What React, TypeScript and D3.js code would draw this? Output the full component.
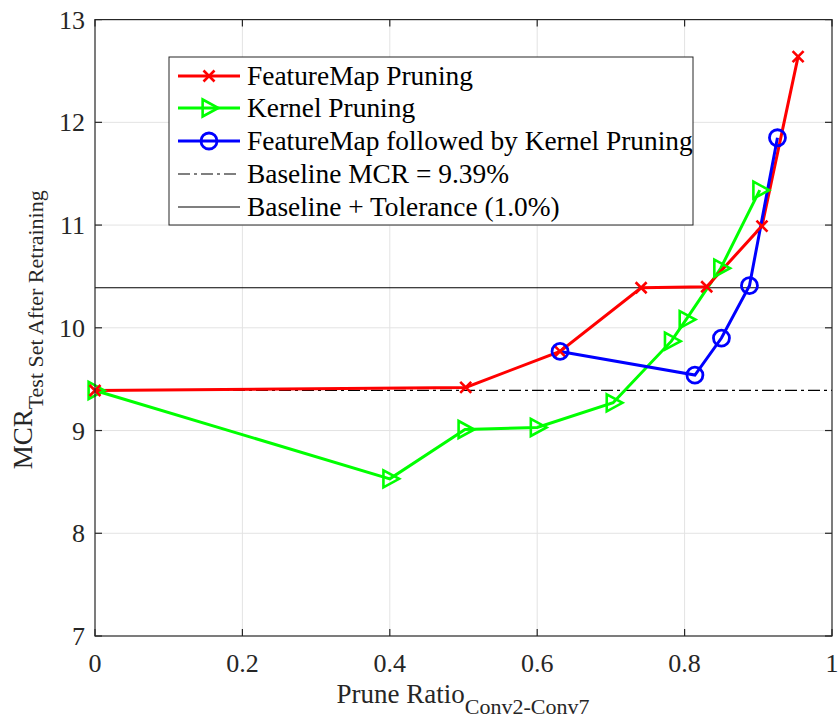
import React from "react";
import * as d3 from "d3";

const fmX = [0, 0.503, 0.631, 0.741, 0.83, 0.905, 0.954];
const fmY = [9.39, 9.42, 9.77, 10.39, 10.4, 10.99, 12.64];
const kX = [0, 0.4, 0.502, 0.6, 0.703, 0.782, 0.802, 0.849, 0.902];
const kY = [9.39, 8.53, 9.01, 9.03, 9.27, 9.87, 10.08, 10.58, 11.34];
const fkX = [0.631, 0.814, 0.85, 0.888, 0.926];
const fkY = [9.77, 9.54, 9.9, 10.41, 11.85];
const baseline = 9.39;
const tolerance = 1.0;
const xTicks = [0, 0.2, 0.4, 0.6, 0.8, 1];
const yTicks = [7, 8, 9, 10, 11, 12, 13];
const legendLabels = [
  "FeatureMap Pruning",
  "Kernel Pruning",
  "FeatureMap followed by Kernel Pruning",
  "Baseline MCR = 9.39%",
  "Baseline + Tolerance (1.0%)",
];

const FONT = '"Liberation Serif", "Times New Roman", "DejaVu Serif", serif';
const RED = "#ff0000";
const GREEN = "#00ff00";
const BLUE = "#0000ff";

const L = 95, R = 832, T = 19.6, B = 636;

function XMark({ x, y, c }: { x: number; y: number; c: string }) {
  const s = 5.5;
  return (
    <path d={`M${x - s},${y - s}L${x + s},${y + s}M${x - s},${y + s}L${x + s},${y - s}`} stroke={c} strokeWidth={2.6} fill="none" />
  );
}
function Tri({ x, y, c }: { x: number; y: number; c: string }) {
  const h = 8.5;
  return (
    <path d={`M${x - h * 0.75},${y - h}L${x + h * 1.1},${y}L${x - h * 0.75},${y + h}Z`} stroke={c} strokeWidth={2.6} fill="none" />
  );
}
function Circ({ x, y, c }: { x: number; y: number; c: string }) {
  return <circle cx={x} cy={y} r={8} stroke={c} strokeWidth={2.8} fill="none" />;
}

export default function App() {
  const x = d3.scaleLinear().domain([0, 1]).range([L, R]);
  const y = d3.scaleLinear().domain([7, 13]).range([B, T]);
  const line = d3.line<[number, number]>().x((d) => x(d[0])).y((d) => y(d[1]));
  const fm = fmX.map((v, i) => [v, fmY[i]] as [number, number]);
  const k = kX.map((v, i) => [v, kY[i]] as [number, number]);
  const fk = fkX.map((v, i) => [v, fkY[i]] as [number, number]);
  const axisC = "#262626";
  const tl = 7;
  const ts = { fontFamily: FONT } as React.CSSProperties;

  const legX = 169, legY = 57, legW = 524, legH = 168;
  const rowY = [76, 108, 141, 174, 207];

  return (
    <svg width={840} height={719} style={{ position: "absolute", left: 0, top: 0, background: "#fff", fontFamily: FONT }}>
      <rect x={0} y={0} width={840} height={719} fill="#fff" />
      {xTicks.slice(1, -1).map((t) => (
        <line key={"gx" + t} x1={x(t)} x2={x(t)} y1={T} y2={B} stroke="#e3e3e3" strokeWidth={1} />
      ))}
      {yTicks.slice(1, -1).map((t) => (
        <line key={"gy" + t} x1={L} x2={R} y1={y(t)} y2={y(t)} stroke="#e3e3e3" strokeWidth={1} />
      ))}
      <line x1={L} x2={R} y1={y(baseline)} y2={y(baseline)} stroke="#000" strokeWidth={1.2} strokeDasharray="12,4,3,4" />
      <line x1={L} x2={R} y1={y(baseline + tolerance)} y2={y(baseline + tolerance)} stroke="#000" strokeWidth={1.2} />
      <path d={line(k) || ""} stroke={GREEN} strokeWidth={3} fill="none" />
      <path d={line(fm) || ""} stroke={RED} strokeWidth={3} fill="none" />
      <path d={line(fk) || ""} stroke={BLUE} strokeWidth={3} fill="none" />
      {k.map((d, i) => <Tri key={"k" + i} x={x(d[0])} y={y(d[1])} c={GREEN} />)}
      {fm.map((d, i) => <XMark key={"f" + i} x={x(d[0])} y={y(d[1])} c={RED} />)}
      {fk.map((d, i) => <Circ key={"b" + i} x={x(d[0])} y={y(d[1])} c={BLUE} />)}
      <rect x={L} y={T} width={R - L} height={B - T} fill="none" stroke={axisC} strokeWidth={1.2} />
      {xTicks.map((t) => (
        <g key={"xt" + t}>
          <line x1={x(t)} x2={x(t)} y1={B} y2={B - tl} stroke={axisC} strokeWidth={1.2} />
          <line x1={x(t)} x2={x(t)} y1={T} y2={T + tl} stroke={axisC} strokeWidth={1.2} />
          <text x={x(t)} y={672} fontSize={26} textAnchor="middle" fill="#262626" style={ts}>{String(t)}</text>
        </g>
      ))}
      {yTicks.map((t) => (
        <g key={"yt" + t}>
          <line x1={L} x2={L + tl} y1={y(t)} y2={y(t)} stroke={axisC} strokeWidth={1.2} />
          <line x1={R} x2={R - tl} y1={y(t)} y2={y(t)} stroke={axisC} strokeWidth={1.2} />
          <text x={L - 10} y={y(t) + 9} fontSize={26} textAnchor="end" fill="#262626" style={ts}>{String(t)}</text>
        </g>
      ))}
      <text x={463} y={703} fontSize={27} textAnchor="middle" fill="#262626" style={ts}>
        Prune Ratio<tspan fontSize={22} dy={11}>Conv2-Conv7</tspan>
      </text>
      <text transform={`translate(32,${(T + B) / 2 + 2}) rotate(-90)`} fontSize={27} textAnchor="middle" fill="#262626" style={ts}>
        MCR<tspan fontSize={22} dy={11}>Test Set After Retraining</tspan>
      </text>
      <rect x={legX} y={legY} width={legW} height={legH} fill="#fff" stroke={axisC} strokeWidth={1} />
      {legendLabels.map((lab, i) => {
        const yy = rowY[i];
        const x1 = 178, x2 = 240, xm = 209;
        let sample: React.ReactNode = null;
        if (i === 0) sample = (<g><line x1={x1} x2={x2} y1={yy} y2={yy} stroke={RED} strokeWidth={3} /><XMark x={xm} y={yy} c={RED} /></g>);
        if (i === 1) sample = (<g><line x1={x1} x2={x2} y1={yy} y2={yy} stroke={GREEN} strokeWidth={3} /><Tri x={xm} y={yy} c={GREEN} /></g>);
        if (i === 2) sample = (<g><line x1={x1} x2={x2} y1={yy} y2={yy} stroke={BLUE} strokeWidth={3} /><Circ x={xm} y={yy} c={BLUE} /></g>);
        if (i === 3) sample = <line x1={x1} x2={x2} y1={yy} y2={yy} stroke="#000" strokeWidth={1.2} strokeDasharray="12,4,3,4" />;
        if (i === 4) sample = <line x1={x1} x2={x2} y1={yy} y2={yy} stroke="#000" strokeWidth={1.2} />;
        return (
          <g key={"lg" + i}>
            {sample}
            <text x={247} y={yy + 9} fontSize={27.4} fill="#000" style={ts}>{lab}</text>
          </g>
        );
      })}
    </svg>
  );
}
